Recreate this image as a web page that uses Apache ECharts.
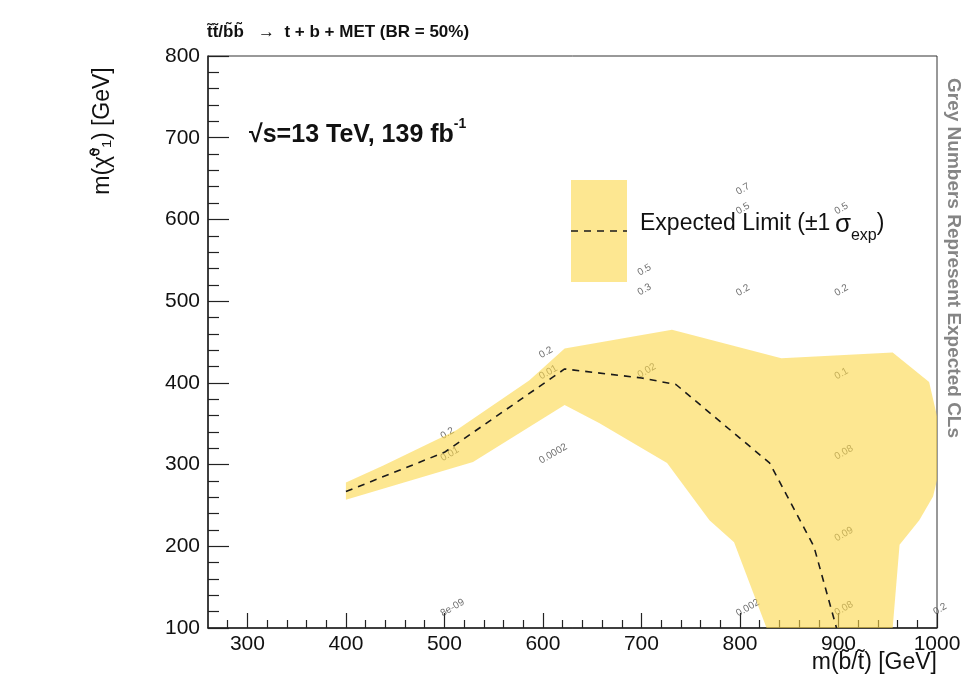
<!DOCTYPE html>
<html>
<head>
<meta charset="utf-8">
<script src="https://cdn.jsdelivr.net/npm/echarts@6/dist/echarts.min.js"></script>
<style>
  html, body { margin: 0; padding: 0; background: #fff; }
  #chart { width: 967px; height: 691px; }
</style>
</head>
<body>
<div id="chart"></div>
<script>
// Expected exclusion contour: m(sbottom/stop) vs m(neutralino), GeV
const expectedX = [400, 500, 622, 700, 735, 830, 875, 898];
const expectedY = [267, 315, 417, 406, 398, 302, 200, 100];

// ±1 sigma band outline, traced clockwise from the lower-left corner
const bandX = [400, 400, 438, 512, 586, 622, 731, 842, 955, 992, 1000, 1000, 996, 982, 962, 955, 827, 794, 769, 726, 657, 622, 529];
const bandY = [257, 278, 299, 342, 403, 442, 465, 430, 437, 401, 359, 281, 261, 232, 202, 100, 100, 205, 232, 302, 351, 373, 303];

// Expected CLs values printed next to the signal grid points
const clsText = ['0.7', '0.5', '0.5', '0.5', '0.3', '0.2', '0.2', '0.2', '0.01', '0.02', '0.1',
                 '0.2', '0.01', '0.0002', '0.08', '0.09', '8e-09', '0.002', '0.08', '0.2'];
const clsX = [800, 800, 900, 700, 700, 800, 900, 600, 600, 700, 900,
              500, 500, 600, 900, 900, 500, 800, 900, 1000];
const clsY = [627, 603, 603, 528, 504, 503, 503, 427, 401, 403, 401,
              328, 301, 298, 303, 203, 111, 111, 112, 113];

// Axis ticks
const xMajorTicks = [300, 400, 500, 600, 700, 800, 900, 1000];
const xMinorTicks = [280, 320, 340, 360, 380, 420, 440, 460, 480, 520, 540, 560, 580,
                     620, 640, 660, 680, 720, 740, 760, 780, 820, 840, 860, 880,
                     920, 940, 960, 980];
const yRange = [100, 800];
const xRange = [260, 1000];

const FONT = '"Liberation Sans", Arial, Helvetica, sans-serif';
const BAND_FILL = 'rgba(252, 215, 72, 0.6)';

const chart = echarts.init(document.getElementById('chart'), null, { renderer: 'canvas' });

const bandData = bandX.map((x, i) => [x, bandY[i]]);
const expectedData = expectedX.map((x, i) => [x, expectedY[i]]);
const clsData = clsX.map((x, i) => [x, clsY[i]]);

chart.setOption({
  animation: false,
  backgroundColor: '#fff',
  grid: {
    left: 208, right: 30, top: 56, bottom: 63,
    show: true, borderColor: '#333', borderWidth: 1, backgroundColor: 'transparent'
  },
  xAxis: [
    {
      type: 'value', min: xRange[0], max: xRange[1],
      axisLine: { lineStyle: { color: '#222', width: 1.5 } },
      axisTick: { inside: true, length: 15, customValues: xMajorTicks, lineStyle: { color: '#222', width: 1.2 } },
      axisLabel: { customValues: xMajorTicks, formatter: v => String(v), fontSize: 21, color: '#111', margin: 6, fontFamily: FONT },
      splitLine: { show: false }
    },
    {
      type: 'value', min: xRange[0], max: xRange[1], position: 'bottom',
      axisLine: { show: false },
      axisTick: { inside: true, length: 8, customValues: xMinorTicks, lineStyle: { color: '#222', width: 1.2 } },
      axisLabel: { show: false },
      splitLine: { show: false }
    }
  ],
  yAxis: {
    type: 'value', min: yRange[0], max: yRange[1], interval: 100,
    axisLine: { show: true, lineStyle: { color: '#222', width: 1.5 } },
    axisTick: { show: true, inside: true, length: 21, lineStyle: { color: '#222', width: 1.2 } },
    minorTick: { show: true, splitNumber: 5, length: 11, lineStyle: { color: '#222', width: 1.2 } },
    axisLabel: { fontSize: 21, color: '#111', margin: 8, fontFamily: FONT },
    splitLine: { show: false }
  },
  series: [
    {
      // CLs numbers, drawn beneath the translucent band
      type: 'scatter', z: 2,
      data: clsData,
      symbol: 'circle', symbolSize: 1,
      itemStyle: { color: 'rgba(0,0,0,0)' },
      label: {
        show: true,
        formatter: p => clsText[p.dataIndex],
        position: [0, 0], align: 'left', verticalAlign: 'bottom',
        rotate: 30, fontSize: 10, color: '#4a4a4a', fontFamily: FONT
      },
      silent: true
    },
    {
      // ±1 sigma band as a filled polygon
      type: 'custom', z: 3,
      data: bandData,
      encode: { x: 0, y: 1 },
      renderItem: (params, api) => {
        if (params.dataIndex !== 0) return null;
        const pts = bandData.map(p => api.coord(p));
        return { type: 'polygon', shape: { points: pts }, style: { fill: BAND_FILL } };
      },
      silent: true
    },
    {
      // expected limit contour
      type: 'line', z: 4,
      data: expectedData,
      symbol: 'none',
      lineStyle: { color: '#1a1a1a', width: 1.6, type: [7, 6] },
      silent: true
    }
  ],
  graphic: [
    {
      type: 'text', left: 207, top: 24,
      style: { text: 't\u0303t\u0303/b\u0303b\u0303   \u2192  t + b + MET (BR = 50%)', font: 'bold 17px ' + FONT, fill: '#111' }
    },
    {
      type: 'text', left: 249, top: 117,
      style: {
        text: '{m|\u221As=13 TeV, 139 fb}{s|-1}',
        rich: {
          m: { font: 'bold 25px ' + FONT, fill: '#111', lineHeight: 31, verticalAlign: 'bottom' },
          s: { font: 'bold 14px ' + FONT, fill: '#111', lineHeight: 16, verticalAlign: 'top' }
        }
      }
    },
    {
      type: 'rect', shape: { x: 571, y: 180, width: 56, height: 102 },
      style: { fill: BAND_FILL }
    },
    {
      type: 'line', shape: { x1: 571, y1: 231, x2: 627, y2: 231 },
      style: { stroke: '#1a1a1a', lineWidth: 1.6, lineDash: [7, 6] }
    },
    {
      type: 'text', left: 640, top: 212,
      style: {
        text: '{m|Expected Limit (\u00B11\u2009}{g|\u03C3}{s|exp}{m|)}',
        rich: {
          m: { font: '23px ' + FONT, fill: '#111', lineHeight: 32, verticalAlign: 'top' },
          g: { font: '26px ' + FONT, fill: '#111', lineHeight: 32, verticalAlign: 'top' },
          s: { font: '16px ' + FONT, fill: '#111', lineHeight: 16, verticalAlign: 'bottom' }
        }
      }
    },
    {
      type: 'text', x: 103, y: 131, rotation: Math.PI / 2,
      style: { text: 'm(\u03C7\u0303\u2070\u2081) [GeV]', font: '23px ' + FONT, fill: '#111', align: 'center', verticalAlign: 'middle' }
    },
    {
      type: 'text', x: 937, y: 663,
      style: { text: 'm(b\u0303/t\u0303) [GeV]', font: '23px ' + FONT, fill: '#111', align: 'right', verticalAlign: 'middle' }
    },
    {
      type: 'text', x: 953, y: 258, rotation: -Math.PI / 2,
      style: { text: 'Grey Numbers Represent Expected CLs', font: 'bold 19px ' + FONT, fill: '#858585', align: 'center', verticalAlign: 'middle' }
    }
  ]
});
</script>
</body>
</html>
